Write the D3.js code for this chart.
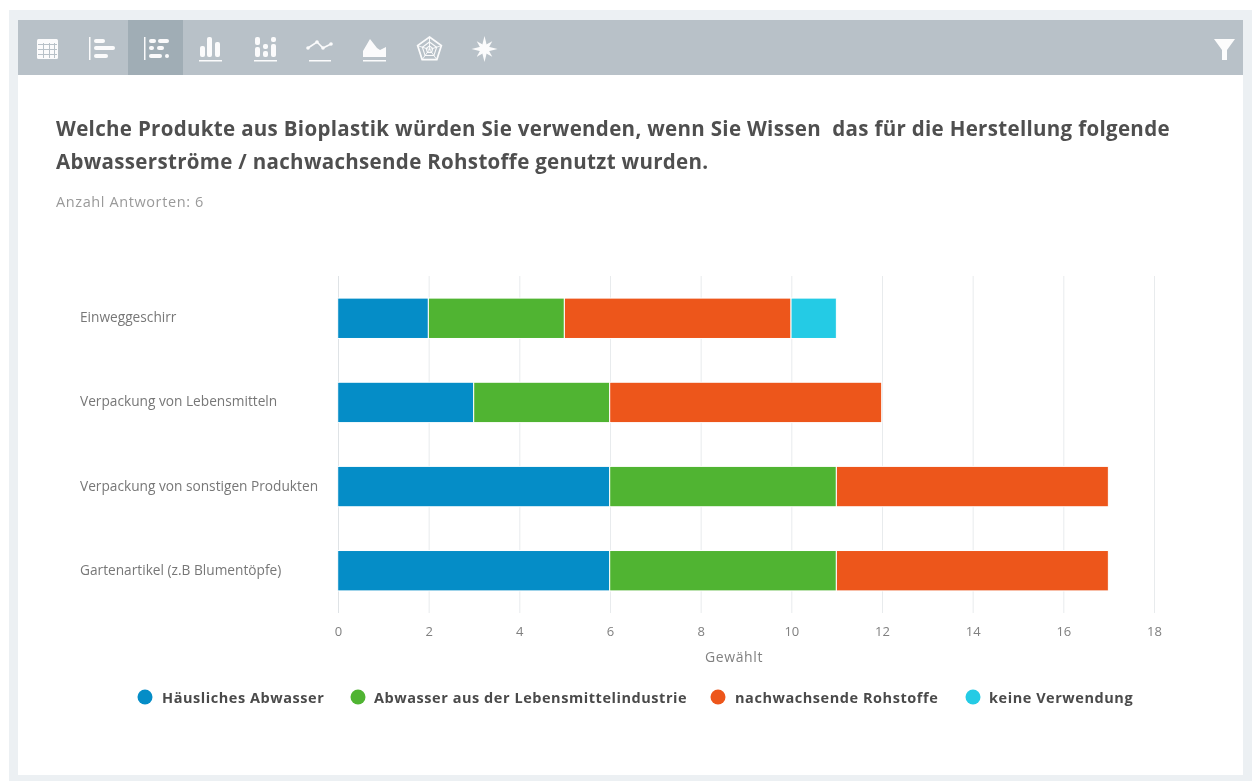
<!DOCTYPE html>
<html><head><meta charset="utf-8">
<script src="https://cdn.jsdelivr.net/npm/d3@7"></script>
<style>html,body{margin:0;padding:0;background:#fff;overflow:hidden}svg{display:block;font-family:"Open Sans",sans-serif;filter:blur(.45px)}</style>
</head><body>
<svg id="c" width="1257" height="783"></svg>
<script>
const categories = ["Einweggeschirr","Verpackung von Lebensmitteln","Verpackung von sonstigen Produkten","Gartenartikel (z.B Blumentöpfe)"];
const seriesNames = ["Häusliches Abwasser","Abwasser aus der Lebensmittelindustrie","nachwachsende Rohstoffe","keine Verwendung"];
const seriesHaeuslich = [2,3,6,6];
const seriesLebensmittel = [3,3,5,5];
const seriesRohstoffe = [5,6,6,6];
const seriesKeine = [1,0,0,0];
const colors = ["#058dc7","#50b432","#ed561b","#24cbe5"];
const xTicks = [0,2,4,6,8,10,12,14,16,18];
const titleLines = ["Welche Produkte aus Bioplastik würden Sie verwenden, wenn Sie Wissen  das für die Herstellung folgende","Abwasserströme / nachwachsende Rohstoffe genutzt wurden."];
const subtitle = "Anzahl Antworten: 6";
const axisTitle = "Gewählt";
const legendX = [145,358,718,973];

const svg = d3.select("#c");
svg.append("rect").attr("x",9).attr("y",10).attr("width",1243).attr("height",771).attr("fill","#ecf0f3");
svg.append("rect").attr("x",18).attr("y",20).attr("width",1225).attr("height",755).attr("fill","#fff");
svg.append("rect").attr("x",18).attr("y",20).attr("width",1225).attr("height",55).attr("fill","#b8c1c8");
svg.append("rect").attr("x",128).attr("y",20).attr("width",55).attr("height",55).attr("fill","#a0adb5");

// toolbar icons
const ic = svg.append("g").attr("fill","#fff").attr("stroke","none").attr("opacity",0.95);
function r(x,y,w,h,rx=1){ic.append("rect").attr("x",x).attr("y",y).attr("width",w).attr("height",h).attr("rx",rx)}
// table
r(37,39,21,20,1.5);
for(const x of [43,49,54]) ic.append("rect").attr("x",x).attr("y",43).attr("width",1).attr("height",15).attr("fill","#b8c1c8");
for(const y of [44,49,54]) ic.append("rect").attr("x",38).attr("y",y).attr("width",19).attr("height",1).attr("fill","#b8c1c8");
// horizontal bars
r(89,37,1.5,23,0);r(94,39,11,4,2);r(94,46,21,4,2);r(94,54,14,4,2);
// stacked horizontal
r(144,37,1.5,23,0);r(149,39,7,4,2);r(158,39,11,4,2);r(149,46,5,4,2);r(157,46,7,4,2);r(149,54,13,4,2);r(165,54,4,4,2);
// columns
r(200,46,5,11,2);r(207,37,5,20,2);r(215,42,5,15,2);r(199,60,23,1.5,0);
// stacked columns
r(255,37,5,8,2);r(255,47,5,10,2);r(263,44,5,5,2);r(263,51,5,6,2);r(271,37,5,5,2);r(271,44,5,13,2);r(254,60,23,1.5,0);
// line
ic.append("path").attr("d",d3.line()([[308,48],[317,42],[323,48],[331,44]])).attr("fill","none").attr("stroke","#fff").attr("stroke-width",1.6);
for(const [x,y] of [[308,48],[317,42],[323,48],[331,44]]) ic.append("circle").attr("cx",x).attr("cy",y).attr("r",1.8);
r(309,60,22,1.5,0);
// area
ic.append("path").attr("d","M363 57L363 51L370 39L377 48L380 50L386 47L386 57Z");
r(363,60,23,1.5,0);
// radar
const pent=(R)=>d3.range(5).map(i=>{const a=-Math.PI/2+i*2*Math.PI/5;return [429.5+R*Math.cos(a),49.5+R*Math.sin(a)]});
const closed=d3.line().curve(d3.curveLinearClosed);
ic.append("path").attr("d",closed(pent(12.5))).attr("fill","none").attr("stroke","#fff").attr("stroke-width",1.7);
ic.append("path").attr("d",closed(pent(7.5))).attr("fill","none").attr("stroke","#fff").attr("stroke-width",1.1);
ic.append("path").attr("d",closed(pent(3.5))).attr("fill","none").attr("stroke","#fff").attr("stroke-width",1.1);
for(const [x,y] of pent(12.5)) ic.append("line").attr("x1",429.5).attr("y1",49.5).attr("x2",x).attr("y2",y).attr("stroke","#fff").attr("stroke-width",.9);
// star
d3.range(8).forEach(i=>{const a=i*Math.PI/4,R=i%2?11:13,s=3.2,c=[484.5,49];
 ic.append("path").attr("d",d3.line()([[c[0]+R*Math.cos(a),c[1]+R*Math.sin(a)],[c[0]+s*Math.cos(a+1.57),c[1]+s*Math.sin(a+1.57)],[c[0]+s*Math.cos(a-1.57),c[1]+s*Math.sin(a-1.57)]])+"Z");});
// filter
ic.append("path").attr("d","M1214 39L1235 39L1227 50L1227 60L1222 60L1222 50Z");

// title
svg.append("g").selectAll("text").data(titleLines).join("text")
 .attr("x",56).attr("y",(d,i)=>136+i*33).attr("fill","#4f4f4f").attr("font-size",20.5).attr("font-weight",700).attr("letter-spacing",".32").style("white-space","pre").text(d=>d);
svg.append("text").attr("x",56).attr("y",207).attr("fill","#9a9a9a").attr("font-size",14.5).attr("letter-spacing",".6").text(subtitle);

// chart
const x = d3.scaleLinear().domain([0,18]).range([338,1154]);
const y = d3.scaleBand().domain(categories).range([276,613]).paddingInner(0.52).paddingOuter(0.2625);
const rows = categories.map((c,i)=>({cat:c,s0:seriesHaeuslich[i],s1:seriesLebensmittel[i],s2:seriesRohstoffe[i],s3:seriesKeine[i]}));
const stacked = d3.stack().keys(["s0","s1","s2","s3"])(rows);

const grid = svg.append("g");
grid.selectAll("line").data(xTicks).join("line").attr("x1",d=>x(d)+.5).attr("x2",d=>x(d)+.5).attr("y1",276).attr("y2",613)
 .attr("stroke",d=>d===0?"#dfe3e6":"#e8ebed").attr("stroke-width",1);

svg.append("g").selectAll("g").data(stacked).join("g").attr("fill",(d,i)=>colors[i])
 .selectAll("rect").data(d=>d.filter(v=>v[1]>v[0])).join("rect")
 .attr("x",d=>x(d[0])-.3).attr("width",d=>x(d[1])-x(d[0])).attr("y",d=>y(d.data.cat)).attr("height",y.bandwidth())
 .attr("stroke","#fff").attr("stroke-width",1);

const ax = svg.append("g").attr("transform","translate(0,613)").call(d3.axisBottom(x).tickValues(xTicks).tickSize(0).tickPadding(14));
ax.select(".domain").remove();
ax.selectAll("text").attr("fill","#808080").attr("font-size",13).attr("font-family","'Open Sans',sans-serif");

svg.append("g").selectAll("text").data(categories).join("text").attr("x",80)
 .attr("y",d=>y(d)+y.bandwidth()/2+4).attr("fill","#777").attr("font-size",13.7).text(d=>d);

svg.append("text").attr("x",734).attr("y",662).attr("text-anchor","middle").attr("fill","#808080").attr("font-size",14).attr("letter-spacing",".6").text(axisTitle);

const lg = svg.append("g").selectAll("g").data(seriesNames).join("g");
lg.append("circle").attr("cx",(d,i)=>legendX[i]).attr("cy",697).attr("r",7.5).attr("fill",(d,i)=>colors[i]);
lg.append("text").attr("x",(d,i)=>legendX[i]+(i%2?16:17)).attr("y",703).attr("fill","#4a4a4a").attr("font-size",14.5).attr("font-weight",700).attr("letter-spacing",".55").text(d=>d);
</script>
</body></html>
